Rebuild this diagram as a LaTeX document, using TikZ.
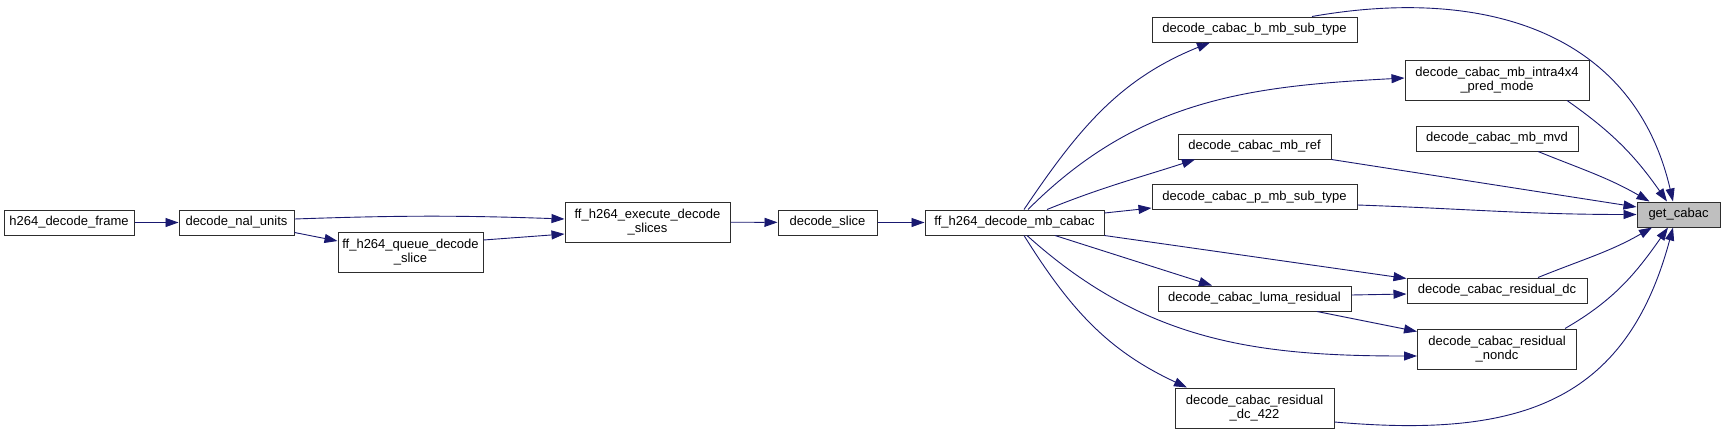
\documentclass[tikz,border=0pt]{standalone}
\usepackage{fontspec}
\setmainfont{Liberation Sans}
\usetikzlibrary{arrows.meta}
\definecolor{edgeblue}{RGB}{25,25,112}
\definecolor{nodegray}{RGB}{191,191,191}
\definecolor{boxline}{RGB}{45,45,45}
\begin{document}
\begin{tikzpicture}[x=1pt,y=1pt,
  fn/.style={draw=boxline,line width=1pt,fill=white,inner sep=0pt,minimum height=25pt,
    align=center,font=\fontsize{13}{14.5}\selectfont},
  fntwo/.style={fn,minimum height=40pt},
  calls/.style={edgeblue,line width=0.9pt,-{Triangle[length=13pt,width=9pt]}}]
\useasboundingbox[fill=white] (0,0) rectangle (1725,-434);
% callers on the left
\node[fn,minimum width=130pt] (frame) at (69,-222.5) {h264\_decode\_frame};
\node[fn,minimum width=115pt] (nal) at (236.5,-222.5) {decode\_nal\_units};
\node[fntwo,minimum width=145pt] (queue) at (410.5,-252) {ff\_h264\_queue\_decode\\\_slice};
\node[fntwo,minimum width=165pt] (exec) at (647.5,-222) {ff\_h264\_execute\_decode\\\_slices};
\node[fn,minimum width=99pt] (slice) at (827.5,-222.5) {decode\_slice};
\node[fn,minimum width=179pt] (mbcabac) at (1014.5,-222.5) {ff\_h264\_decode\_mb\_cabac};
% middle column
\node[fn,minimum width=205pt] (bsub) at (1254.5,-29.5) {decode\_cabac\_b\_mb\_sub\_type};
\node[fn,minimum width=153pt] (mbref) at (1254.5,-146.5) {decode\_cabac\_mb\_ref};
\node[fn,minimum width=205pt] (psub) at (1254.5,-197) {decode\_cabac\_p\_mb\_sub\_type};
\node[fn,minimum width=193pt] (luma) at (1254.5,-298.5) {decode\_cabac\_luma\_residual};
\node[fntwo,minimum width=159pt] (dcfour) at (1254.5,-408) {decode\_cabac\_residual\\\_dc\_422};
% right column
\node[fntwo,minimum width=184pt] (intra) at (1497,-80) {decode\_cabac\_mb\_intra4x4\\\_pred\_mode};
\node[fn,minimum width=162pt] (mvd) at (1497,-138.5) {decode\_cabac\_mb\_mvd};
\node[fn,minimum width=180pt] (resdc) at (1497,-290.5) {decode\_cabac\_residual\_dc};
\node[fntwo,minimum width=159pt] (nondc) at (1497,-349) {decode\_cabac\_residual\\\_nondc};
\node[fn,fill=nodegray,minimum width=83pt] (getcabac) at (1678.5,-214.5) {get\_cabac};
% call chain
\draw[calls] (frame) -- (nal);
\draw[calls] ([yshift=3.5pt]nal.east) to[out=2,in=178] ([yshift=3pt]exec.west);
\draw[calls] ([yshift=3pt]nal.south east) -- ([yshift=11pt]queue.west);
\draw[calls] ([yshift=12pt]queue.east) -- ([yshift=-12pt]exec.west);
\draw[calls] (exec) -- (slice);
\draw[calls] (slice) -- (mbcabac);
\draw[calls] ([xshift=9.5pt]mbcabac.north) to[out=56,in=202] ([xshift=-44.5pt]bsub.south);
\draw[calls] ([xshift=13.5pt]mbcabac.north) to[out=45,in=183] ([yshift=2pt]intra.west);
\draw[calls] ([xshift=32.5pt]mbcabac.north) to[out=22,in=198] ([xshift=-59.5pt]mbref.south);
\draw[calls] ([yshift=9.5pt]mbcabac.east) -- ([yshift=2pt]psub.south west);
\draw[calls] (mbcabac.south east) -- ([yshift=-1pt]resdc.north west);
\draw[calls] ([xshift=40.5pt]mbcabac.south) -- ([xshift=-42.5pt]luma.north);
\draw[calls] ([xshift=12.5pt]mbcabac.south) to[out=-42,in=180] ([yshift=-7pt]nondc.west);
\draw[calls] ([xshift=9.5pt]mbcabac.south) to[out=-58,in=155] ([xshift=-67.5pt]dcfour.north);
\draw[calls] ([yshift=3.5pt]luma.east) -- ([yshift=-3.5pt]resdc.west);
\draw[calls] ([xshift=62.5pt]luma.south) -- ([yshift=-3pt]nondc.north west);
% into get_cabac
\draw[calls] ([xshift=57.5pt]bsub.north) to[out=10,in=103,looseness=1.1] ([xshift=-5.5pt]getcabac.north);
\draw[calls] ([xshift=70pt]intra.south) to[out=-35,in=125] ([xshift=-11.5pt]getcabac.north);
\draw[calls] ([xshift=41pt]mvd.south) to[out=-22,in=150] ([xshift=13pt]getcabac.north west);
\draw[calls] (mbref.south east) -- ([yshift=7.5pt]getcabac.west);
\draw[calls] ([yshift=-8pt]psub.east) to[out=-2,in=180] (getcabac.west);
\draw[calls] ([xshift=41pt]resdc.north) to[out=22,in=210] ([xshift=-26.5pt]getcabac.south);
\draw[calls] ([xshift=68pt]nondc.north) to[out=30,in=235] ([xshift=-10.5pt]getcabac.south);
\draw[calls] ([yshift=-14pt]dcfour.east) to[out=-5,in=255,looseness=1.2] ([xshift=-5.5pt]getcabac.south);
\end{tikzpicture}
\end{document}
